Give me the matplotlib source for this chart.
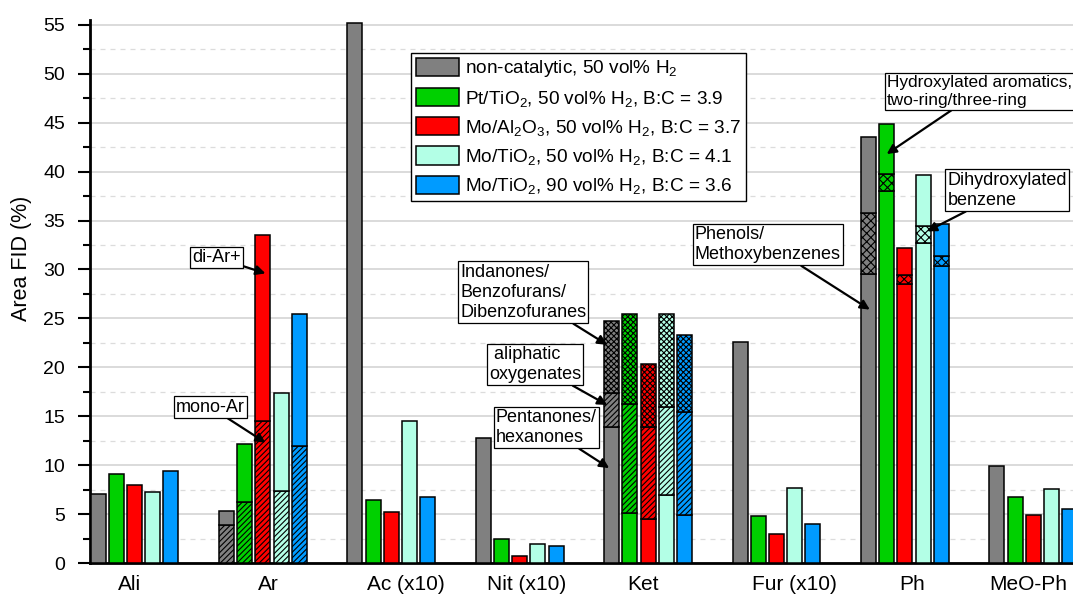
import numpy as np
import matplotlib
matplotlib.use("Agg")
import matplotlib.pyplot as plt
from matplotlib.patches import Patch
from matplotlib.ticker import MultipleLocator

plt.rcParams['font.family'] = ['Liberation Sans', 'DejaVu Sans']
plt.rcParams['mathtext.fontset'] = 'custom'
plt.rcParams['mathtext.rm'] = 'Liberation Sans'
plt.rcParams['mathtext.it'] = 'Liberation Sans:italic'
plt.rcParams['mathtext.default'] = 'regular'
plt.rcParams['hatch.linewidth'] = 0.8

# ---------------- data ----------------
categories = ['Ali', 'Ar', 'Ac (x10)', 'Nit (x10)', 'Ket', 'Fur (x10)', 'Ph', 'MeO-Ph']
series = ['non-catalytic, 50 vol% H$_2$',
          'Pt/TiO$_2$, 50 vol% H$_2$, B:C = 3.9',
          'Mo/Al$_2$O$_3$, 50 vol% H$_2$, B:C = 3.7',
          'Mo/TiO$_2$, 50 vol% H$_2$, B:C = 4.1',
          'Mo/TiO$_2$, 90 vol% H$_2$, B:C = 3.6']
colors = ['#808080', '#00D000', '#FF0000', '#B3FFE6', '#009BFF']

ali = [7.05, 9.07, 8.0, 7.23, 9.38]
ar_mono = [3.9, 6.2, 14.55, 7.36, 12.0]
ar_di = [1.4, 5.95, 18.95, 9.99, 13.4]
ac_x10 = [55.2, 6.47, 5.2, 14.55, 6.75]
nit_x10 = [12.8, 2.45, 0.75, 1.94, 1.7]
ket_pent = [13.94, 5.08, 4.47, 6.95, 4.9]
ket_aliph = [3.46, 11.22, 9.41, 8.95, 10.57]
ket_indan = [7.38, 9.2, 6.42, 9.5, 7.88]
fur_x10 = [22.6, 4.77, 2.93, 7.67, 4.02]
ph_phenols = [29.55, 38.07, 28.5, 32.75, 30.4]
ph_dihydroxy = [6.2, 1.73, 0.95, 1.65, 1.0]
ph_polyring = [7.75, 5.1, 2.75, 5.25, 3.3]
meo_ph = [9.95, 6.72, 4.9, 7.6, 5.52]

# stacked segments per category (bottom -> top) with hatch style
stacks = [
    [(ali, '')],
    [(ar_mono, '//////'), (ar_di, '')],
    [(ac_x10, '')],
    [(nit_x10, '')],
    [(ket_pent, ''), (ket_aliph, '//////'), (ket_indan, 'xxxxxx')],
    [(fur_x10, '')],
    [(ph_phenols, ''), (ph_dihydroxy, 'xxxx'), (ph_polyring, '')],
    [(meo_ph, '')],
]

# ---------------- figure ----------------
W, H = 1073, 594
fig = plt.figure(figsize=(W / 100, H / 100), dpi=100)
ax = fig.add_axes([90 / W, 31 / H, 983 / W, 543 / H])

step = 0.1417
width = 0.117
ns = len(series)
group_x = np.arange(len(categories))
# horizontal shift of each category label (pixels), as placed in the original
label_shift_px = [-4.5, 5, 15, 7, -5, 18, 7, -5]
px_per_unit = 128.4


def bar_x(g, s):
    return group_x[g] + (s - (ns - 1) / 2) * step


for g, segs in enumerate(stacks):
    for s in range(ns):
        bottom = 0.0
        for vals, hatch in segs:
            ax.bar(bar_x(g, s), vals[s], width=width, bottom=bottom,
                   color=colors[s], edgecolor='black', linewidth=1.1,
                   hatch=hatch if hatch else None, zorder=3)
            bottom += vals[s]

ax.set_xlim(-0.3466, 7.309)
ax.set_ylim(0, 55.5)
ax.yaxis.set_major_locator(MultipleLocator(5))
ax.yaxis.set_minor_locator(MultipleLocator(2.5))
ax.grid(axis='y', which='major', color='#d4d4d4', linewidth=1.2, zorder=0)
ax.grid(axis='y', which='minor', color='#dcdcdc', linewidth=0.9, linestyle=(0, (4, 4)), zorder=0)
ax.set_axisbelow(True)

ax.set_xticks(group_x + np.array(label_shift_px) / px_per_unit)
ax.set_xticklabels(categories, fontsize=15)
ax.tick_params(axis='x', length=0, pad=9)
ax.tick_params(axis='y', which='major', direction='out', length=9, width=1.5, labelsize=14, pad=9)
ax.tick_params(axis='y', which='minor', direction='out', length=5, width=1.5)

for side in ['top', 'right']:
    ax.spines[side].set_visible(False)
ax.spines['left'].set_linewidth(2)
ax.spines['bottom'].set_linewidth(2)

fig.text(22 / W, 1 - 258 / H, 'Area FID (%)', rotation=90, ha='center', va='center', fontsize=15.5)

# legend
handles = [Patch(facecolor=c, edgecolor='black', linewidth=1.1) for c in colors]
leg = ax.legend(handles, series, loc='upper left', bbox_to_anchor=(0.327, 0.939),
                fontsize=13.7, frameon=True, fancybox=False, edgecolor='black',
                framealpha=1, borderaxespad=0, borderpad=0.25, handlelength=2.25,
                handleheight=1.1, handletextpad=0.3, labelspacing=0.45)
leg.get_frame().set_linewidth(1.0)
leg.set_zorder(5)

# annotations
box = dict(boxstyle='square,pad=0.12', fc='white', ec='black', lw=0.9)
arrow = dict(arrowstyle='-|>', color='black', lw=1.6, mutation_scale=14, shrinkA=0, shrinkB=0)


def note(text, xy, xytext, fs=13):
    ax.annotate(text, xy=xy, xytext=xytext, textcoords='data', xycoords='data',
                ha='left', va='top', fontsize=fs, linespacing=1.25,
                bbox=box, arrowprops=arrow, zorder=6)


g_ar, g_ket, g_ph = 1, 4, 6
note('di-Ar+', (bar_x(g_ar, 2) + 0.02, 29.6), (0.448, 32.1))
note('mono-Ar', (bar_x(g_ar, 2) + 0.02, 12.3), (0.323, 16.8))
note('Indanones/\nBenzofurans/\nDibenzofuranes', (bar_x(g_ket, 0) - 0.035, 22.3), (2.535, 30.6))
note(' aliphatic\noxygenates', (bar_x(g_ket, 0) - 0.035, 16.15), (2.76, 22.2))
note('Pentanones/\nhexanones', (bar_x(g_ket, 0) - 0.02, 9.7), (2.815, 15.75))
note('Phenols/\nMethoxybenzenes', (bar_x(g_ph, 0) + 0.01, 25.9), (4.365, 34.45))
note('Hydroxylated aromatics,\ntwo-ring/three-ring', (bar_x(g_ph, 1), 41.8), (5.86, 49.9), fs=12.4)
note('Dihydroxylated\nbenzene', (bar_x(g_ph, 3) + 0.03, 33.9), (6.332, 40.0))

fig.savefig('out.png', dpi=100)
